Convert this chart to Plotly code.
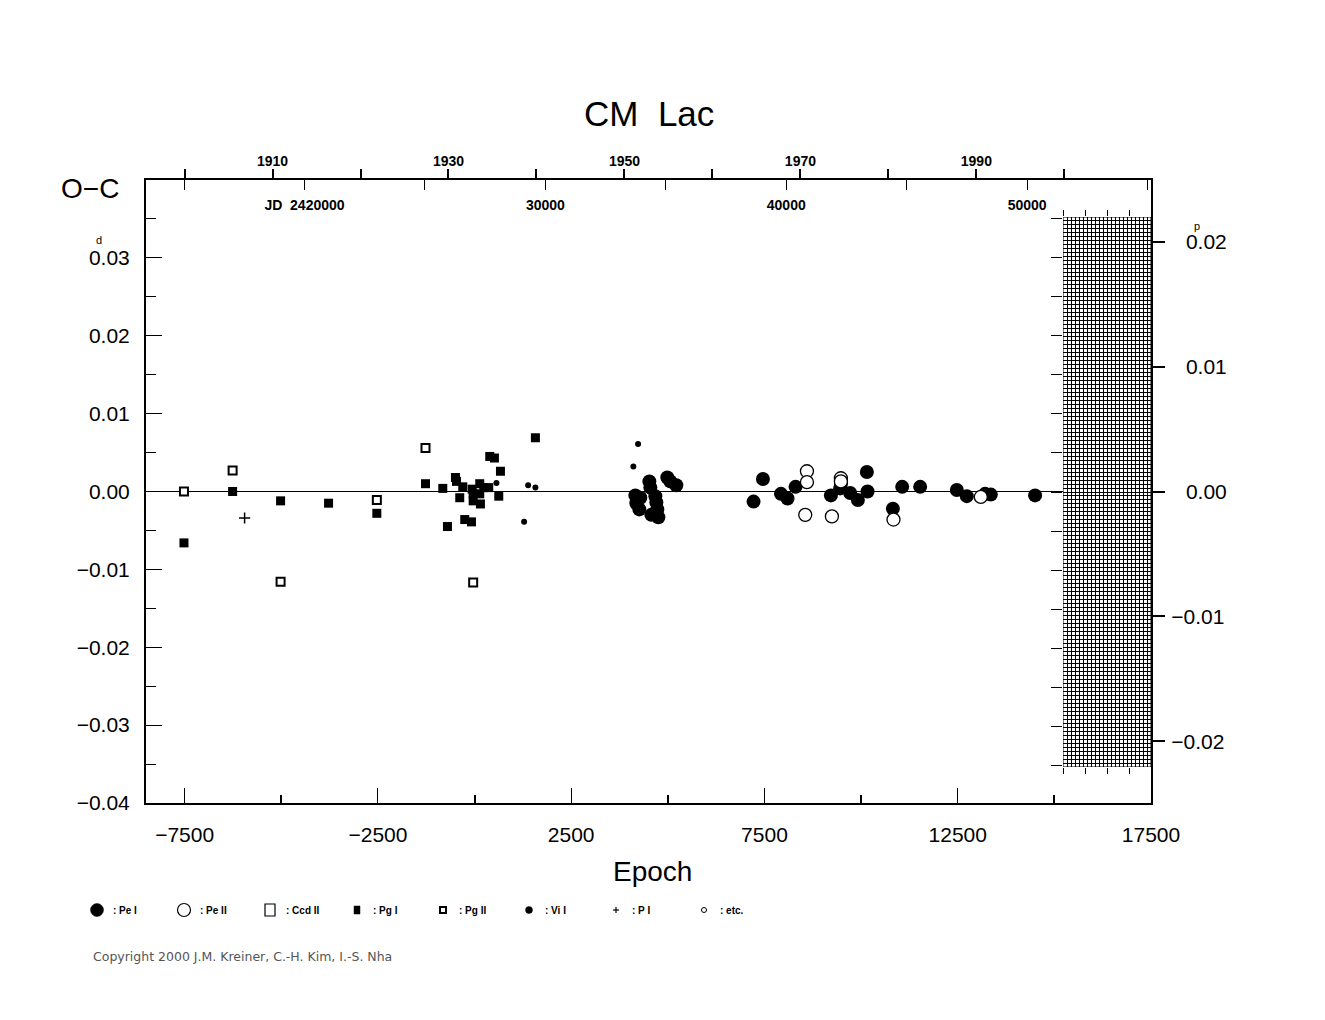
import plotly.graph_objects as go

# ---------------- data (epoch, O-C in days) ----------------
P = 1.6047
T0 = 2427060.0

pe1_E = [4160, 4186, 4263, 4289, 4522, 4548, 4574, 4677, 4703, 4729, 4755, 4987, 5065, 5220,
         7218, 7461, 7927, 8097, 8304, 9219, 9460, 9480, 9718, 9917, 10150, 10167, 10822,
         11063, 11528, 12477, 12735, 13208, 13356, 14501]
pe1_oc = [-0.0005, -0.0015, -0.0023, -0.0008, 0.0013, 0.0005, -0.0030, -0.0006, -0.0014, -0.0023,
          -0.0033, 0.0018, 0.0013, 0.0008,
          -0.0013, 0.0016, -0.0003, -0.0009, 0.0006, -0.0005, 0.0004, 0.0010, -0.0002, -0.0011,
          0.0025, 0.0000, -0.0022, 0.0006, 0.0006, 0.0002, -0.0006, -0.0003, -0.0004, -0.0005]

pe2_E = [8599, 8599, 8555, 9245, 9477, 9477, 10838, 13097]
pe2_oc = [0.0026, 0.0012, -0.0030, -0.0032, 0.0017, 0.0013, -0.0036, -0.0007]

pg1_E = [-7518, -6259, -5018, -3777, -2528, -1269, -822, -701, -494, -468, -383, -305, -254, -80,
         -62, -36, -36, 134, 134, 152, 238, 367, 393, 514, 626, 670, 1574]
pg1_oc = [-0.0066, 0.0000, -0.0012, -0.0015, -0.0028, 0.0010, 0.0004, -0.0045, 0.0018, 0.0013,
          -0.0008, 0.0006, -0.0036, -0.0039, 0.0003, -0.0003, -0.0012, 0.0010, -0.0003, -0.0016,
          0.0005, 0.0005, 0.0045, 0.0043, -0.0006, 0.0026, 0.0069]

pg2_E = [-7518, -6259, -5018, -2528, -1269, -36]
pg2_oc = [0.0000, 0.0027, -0.0116, -0.0011, 0.0056, -0.0117]

vi1_E = [566, 1282, 1386, 1574, 4108, 4230]
vi1_oc = [0.0011, -0.0039, 0.0008, 0.0005, 0.0032, 0.0061]

p1_E = [-5949]
p1_oc = [-0.0034]

# axis ticks
x_major = [-7500, -2500, 2500, 7500, 12500, 17500]
x_major_text = ["\u22127500", "\u22122500", "2500", "7500", "12500", "17500"]
x_minor = [-5000, 0, 5000, 10000, 15000]
y_major = [-0.04, -0.03, -0.02, -0.01, 0.0, 0.01, 0.02, 0.03]
y_major_text = ["\u22120.04", "\u22120.03", "\u22120.02", "\u22120.01", "0.00", "0.01", "0.02", "0.03"]
y_minor = [-0.035, -0.025, -0.015, -0.005, 0.005, 0.015, 0.025, 0.035]
ph_ticks = [-0.02, -0.01, 0.0, 0.01, 0.02]
pad = "\u2002\u2009"
ph_text = ["\u22120.02", "\u22120.01", pad + "0.00", pad + "0.01", pad + "0.02"]
years = [1900, 1910, 1920, 1930, 1940, 1950, 1960, 1970, 1980, 1990, 2000]
year_labels = ["", "1910", "", "1930", "", "1950", "", "1970", "", "1990", ""]
jds = [2415000, 2420000, 2425000, 2430000, 2435000, 2440000, 2445000, 2450000, 2455000]
jd_labels = ["", "JD  2420000", "", "30000", "", "40000", "", "50000", ""]

legend_names = [": Pe I", ": Pe II", ": Ccd II", ": Pg I", ": Pg II", ": Vi I", ": P I", ": etc."]

# ---------------- helpers ----------------
X_RANGE = [-8500, 17500]
Y_RANGE = [-0.04, 0.04]
HATCH_X = [15225, 17500]
HATCH_Y = [-0.0352, 0.0352]
HATCH_NX = 22
HATCH_NY = 138

W, H = 1325, 1020
L, R, T, B = 146, 1151, 180, 803


def px(x):
    return (x - L) / (R - L)


def py(y):
    return (B - y) / (B - T)


def jd_to_E(jd):
    return (jd - T0) / P


def yr_to_E(y):
    return jd_to_E(2415020.5 + (y - 1900) * 365.25)


NUMFONT = dict(family="Liberation Sans, Arial, sans-serif", size=21, color="black")
SMALLBOLD = dict(family="Liberation Sans, Arial, sans-serif", size=14, color="black", weight="bold")

fig = go.Figure()

fig.add_trace(go.Scatter(x=pg2_E, y=pg2_oc, mode="markers",
                         marker=dict(symbol="square", size=8, color="white",
                                     line=dict(color="black", width=2)), showlegend=False))
fig.add_trace(go.Scatter(x=pg1_E, y=pg1_oc, mode="markers",
                         marker=dict(symbol="square", size=9, color="black",
                                     line=dict(width=0)), showlegend=False))
fig.add_trace(go.Scatter(x=vi1_E, y=vi1_oc, mode="markers",
                         marker=dict(symbol="circle", size=6, color="black",
                                     line=dict(width=0)), showlegend=False))
fig.add_trace(go.Scatter(x=p1_E, y=p1_oc, mode="markers",
                         marker=dict(symbol="cross-thin", size=8, color="black",
                                     line=dict(color="black", width=1.5)), showlegend=False))
fig.add_trace(go.Scatter(x=pe1_E, y=pe1_oc, mode="markers",
                         marker=dict(symbol="circle", size=14, color="black",
                                     line=dict(width=0)), showlegend=False))
fig.add_trace(go.Scatter(x=pe2_E, y=pe2_oc, mode="markers",
                         marker=dict(symbol="circle", size=13, color="white",
                                     line=dict(color="black", width=1.3)), showlegend=False))
# dummy traces for the overlay axes
fig.add_trace(go.Scatter(x=[None], y=[None], xaxis="x3", yaxis="y3", showlegend=False, hoverinfo="skip"))
fig.add_trace(go.Scatter(x=[None], y=[None], xaxis="x2", yaxis="y2", showlegend=False, hoverinfo="skip"))
fig.add_trace(go.Scatter(x=[None], y=[None], xaxis="x4", yaxis="y", showlegend=False, hoverinfo="skip"))

shapes = []
# zero line
shapes.append(dict(type="line", xref="x", yref="y", x0=X_RANGE[0], x1=HATCH_X[0], y0=0, y1=0,
                   line=dict(color="black", width=1), layer="below"))
# hatch border
shapes.append(dict(type="rect", xref="x3", yref="y3", x0=HATCH_X[0], x1=HATCH_X[1],
                   y0=HATCH_Y[0], y1=HATCH_Y[1], line=dict(color="black", width=1)))

# legend symbols
leg_x = [97, 184, 270, 357, 443, 529, 616, 704]
leg_y = 910
annotations = []
sym_specs = [
    ("circle", 6.5, 6.5, "black", 0),
    ("circle", 6.5, 6.5, "white", 1.2),
    ("rect", 5, 6, "white", 1.2),
    ("rect", 3, 4, "black", 0),
    ("rect", 3, 3, "white", 2),
    ("circle", 3.5, 3.5, "black", 0),
    ("plus", 3, 3, "black", 1.2),
    ("circle", 2.5, 2.5, "white", 1),
]
for (kind, hw, hh, fill, lw), lx, name in zip(sym_specs, leg_x, legend_names):
    ax = px(lx)
    ay = py(leg_y)
    if kind == "plus":
        shapes.append(dict(type="line", xref="paper", yref="paper", xsizemode="pixel", ysizemode="pixel",
                           xanchor=ax, yanchor=ay, x0=-hw, x1=hw, y0=0, y1=0,
                           line=dict(color="black", width=lw)))
        shapes.append(dict(type="line", xref="paper", yref="paper", xsizemode="pixel", ysizemode="pixel",
                           xanchor=ax, yanchor=ay, x0=0, x1=0, y0=-hh, y1=hh,
                           line=dict(color="black", width=lw)))
    else:
        shapes.append(dict(type="circle" if kind == "circle" else "rect", xref="paper", yref="paper",
                           xsizemode="pixel", ysizemode="pixel", xanchor=ax, yanchor=ay,
                           x0=-hw, x1=hw, y0=-hh, y1=hh, fillcolor=fill,
                           line=dict(color="black", width=lw if lw > 0 else 0.5)))
    annotations.append(dict(text=name, xref="paper", yref="paper", x=px(lx + 14), y=py(leg_y),
                            xanchor="left", yanchor="middle", showarrow=False,
                            font=dict(family="Liberation Sans, Arial, sans-serif", size=10,
                                      color="black", weight="bold")))

annotations += [
    dict(text="CM\u00a0\u00a0Lac", xref="paper", yref="paper", x=0.5, y=py(113), xanchor="center",
         yanchor="middle", showarrow=False,
         font=dict(family="Liberation Sans, Arial, sans-serif", size=35, color="black")),
    dict(text="Epoch", xref="paper", yref="paper", x=px(652), y=py(871), xanchor="center",
         yanchor="middle", showarrow=False,
         font=dict(family="Liberation Sans, Arial, sans-serif", size=28, color="black")),
    dict(text="O\u2212C", xref="paper", yref="paper", x=px(90), y=py(188), xanchor="center",
         yanchor="middle", showarrow=False,
         font=dict(family="Liberation Sans, Arial, sans-serif", size=28, color="black")),
    dict(text="d", xref="paper", yref="paper", x=px(99), y=py(240), xanchor="center",
         yanchor="middle", showarrow=False,
         font=dict(family="Liberation Sans, Arial, sans-serif", size=11, color="black")),
    dict(text="p", xref="paper", yref="paper", x=px(1197), y=py(226), xanchor="center",
         yanchor="middle", showarrow=False,
         font=dict(family="Liberation Sans, Arial, sans-serif", size=11, color="black")),
    dict(text="Copyright 2000 J.M. Kreiner, C.-H. Kim, I.-S. Nha", xref="paper", yref="paper",
         x=px(91), y=py(956), xanchor="left", yanchor="middle", showarrow=False,
         font=dict(family="DejaVu Sans, Verdana, sans-serif", size=12.5, color="#555555")),
]

fig.update_layout(
    width=W, height=H,
    margin=dict(l=L, r=W - R, t=T, b=H - B, pad=0),
    paper_bgcolor="white", plot_bgcolor="white",
    showlegend=False,
    shapes=shapes,
    annotations=annotations,
    xaxis=dict(domain=[0, 1], range=X_RANGE, anchor="y", showline=True, linecolor="black", linewidth=2,
               ticks="inside", ticklen=15, tickwidth=1, tickcolor="black",
               tickmode="array", tickvals=x_major, ticktext=x_major_text,
               showgrid=False, zeroline=False, tickfont=NUMFONT, ticklabelstandoff=12,
               minor=dict(tickmode="array", tickvals=x_minor, ticks="inside", ticklen=8,
                          tickwidth=2, tickcolor="black", showgrid=False)),
    yaxis=dict(domain=[0, 1], range=Y_RANGE, anchor="x", showline=True, linecolor="black", linewidth=2,
               ticks="inside", ticklen=16, tickwidth=1, tickcolor="black",
               tickmode="array", tickvals=y_major, ticktext=y_major_text,
               showgrid=False, zeroline=False, tickfont=NUMFONT, ticklabelstandoff=10,
               minor=dict(tickmode="array", tickvals=y_minor, ticks="inside", ticklen=10,
                          tickwidth=1, tickcolor="black", showgrid=False)),
    yaxis2=dict(overlaying="y", side="right", anchor="x", range=[Y_RANGE[0] / P, Y_RANGE[1] / P],
                showline=True, linecolor="black", linewidth=2,
                ticks="outside", ticklen=12, tickwidth=2, tickcolor="black",
                tickmode="array", tickvals=ph_ticks, ticktext=ph_text,
                showgrid=False, zeroline=False, tickfont=NUMFONT, ticklabelstandoff=2),
    xaxis2=dict(overlaying="x", side="top", anchor="y", range=X_RANGE,
                showline=True, linecolor="black", linewidth=2,
                ticks="outside", ticklen=9, tickwidth=2, tickcolor="black",
                tickmode="array", tickvals=[yr_to_E(y) for y in years], ticktext=year_labels,
                showgrid=False, zeroline=False, tickfont=SMALLBOLD, ticklabelstandoff=-3),
    xaxis4=dict(overlaying="x", side="top", anchor="y", range=X_RANGE,
                showline=False, ticks="inside", ticklen=10, tickwidth=1, tickcolor="black",
                tickmode="array", tickvals=[jd_to_E(j) for j in jds], ticktext=jd_labels,
                ticklabelposition="inside", showgrid=False, zeroline=False,
                tickfont=SMALLBOLD, ticklabelstandoff=10),
    xaxis3=dict(domain=[px(1063), 1], anchor="y3", side="top", range=HATCH_X,
                showline=False, ticks="outside", ticklen=6, tickwidth=1, tickcolor="black",
                mirror="ticks", tickmode="array",
                tickvals=[HATCH_X[0] + k * (HATCH_X[1] - HATCH_X[0]) / 4 for k in range(4)],
                showticklabels=False, showgrid=False, zeroline=False,
                minor=dict(tick0=HATCH_X[0], dtick=(HATCH_X[1] - HATCH_X[0]) / HATCH_NX, showgrid=True,
                           gridcolor="black", gridwidth=1, ticks="")),
    yaxis3=dict(domain=[py(767), py(217)], anchor="x3", side="left", range=HATCH_Y,
                showline=False, ticks="outside", ticklen=11, tickwidth=1, tickcolor="black",
                tickmode="array", tickvals=[-0.035, -0.03, -0.025, -0.02, -0.015, -0.01, -0.005, 0,
                                            0.005, 0.01, 0.015, 0.02, 0.025, 0.03, 0.035],
                showticklabels=False, showgrid=False, zeroline=False,
                minor=dict(tick0=HATCH_Y[0], dtick=(HATCH_Y[1] - HATCH_Y[0]) / HATCH_NY, showgrid=True,
                           gridcolor="black", gridwidth=1, ticks="")),
)

fig.write_html("out.html")
